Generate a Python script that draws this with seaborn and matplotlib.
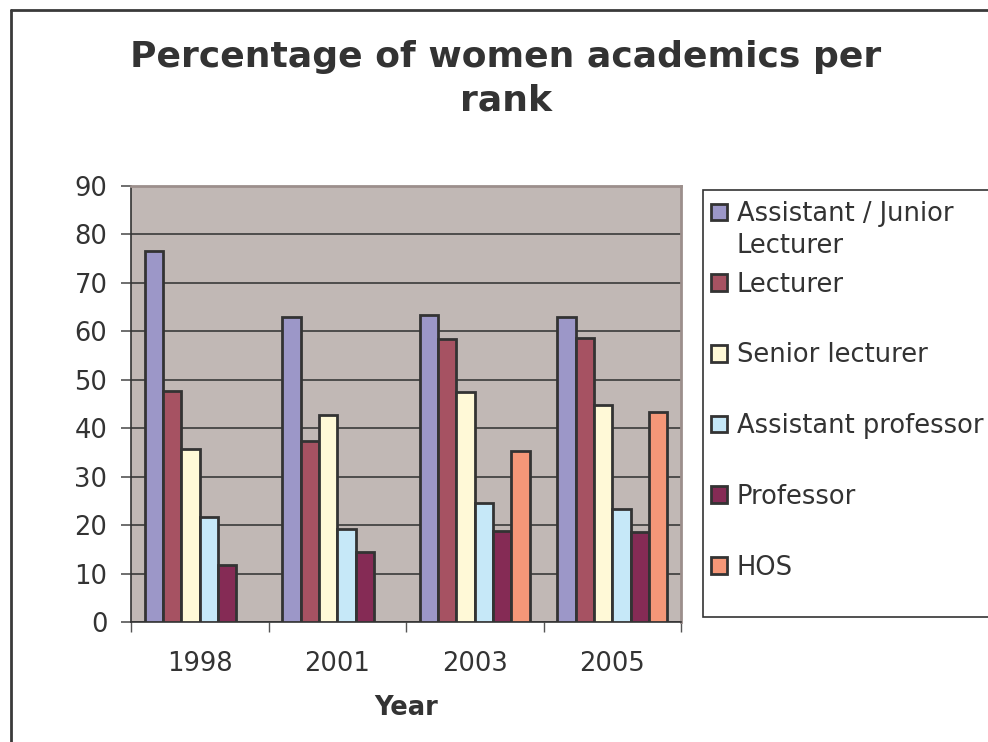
import matplotlib
matplotlib.use('Agg')
import matplotlib.pyplot as plt
from matplotlib.lines import Line2D
from matplotlib.patches import Rectangle
import pandas as pd
import seaborn as sns

# Data
years = ['1998', '2001', '2003', '2005']
ranks = ['Assistant / Junior\nLecturer', 'Lecturer', 'Senior lecturer',
         'Assistant professor', 'Professor', 'HOS']
assistant_junior = [76.6, 63.0, 63.4, 63.0]
lecturer = [47.7, 37.4, 58.5, 58.6]
senior_lecturer = [35.8, 42.7, 47.5, 44.7]
assistant_prof = [21.7, 19.3, 24.5, 23.3]
professor = [11.7, 14.5, 18.7, 18.6]
hos = [None, None, 35.2, 43.3]

colors = ['#9C97C8', '#A65262', '#FFF9D7', '#C6E8F8', '#852B55', '#F59778']

series = [assistant_junior, lecturer, senior_lecturer, assistant_prof, professor, hos]
rows = []
for rank, vals in zip(ranks, series):
    for year, v in zip(years, vals):
        if v is not None:
            rows.append({'Year': year, 'Rank': rank, 'Percentage': v})
df = pd.DataFrame(rows)

sns.set_style('white')
plt.rcParams['font.family'] = ['DejaVu Sans']
text_color = '#333333'
fs = 18.5

W, H = 988, 742
fig = plt.figure(figsize=(W / 100, H / 100), dpi=100)
ax = fig.add_axes([131 / W, 1 - 622 / H, 550 / W, 436 / H])
ax.set_facecolor('#C1B8B5')

sns.barplot(data=df, x='Year', y='Percentage', hue='Rank', order=years,
            hue_order=ranks, palette=dict(zip(ranks, colors)), saturation=1,
            edgecolor='#333333', linewidth=2, width=0.8, ax=ax, zorder=3)

ax.set_ylim(0, 90)
ax.set_xlim(-0.5, 3.5)
ax.set_yticks(range(0, 91, 10))
ax.yaxis.grid(True, color='#3a3a3a', linewidth=1.2)
ax.set_axisbelow(True)

# category boundaries as major ticks, labels on minor ticks
ax.set_xticks([-0.5, 0.5, 1.5, 2.5, 3.5])
ax.set_xticklabels([])
ax.set_xticks(range(len(years)), minor=True)
ax.set_xticklabels(years, minor=True)
ax.tick_params(axis='x', which='major', direction='out', length=7, width=1, color='#555555', bottom=True)
ax.tick_params(axis='x', which='minor', length=0, pad=21, labelsize=fs, labelcolor=text_color)
ax.tick_params(axis='y', direction='out', length=7, width=1.2, color='#555555', left=True,
               pad=10, labelsize=fs, labelcolor=text_color)

for side in ['left', 'bottom']:
    ax.spines[side].set_color('#333333')
    ax.spines[side].set_linewidth(1.2)
for side in ['top', 'right']:
    ax.spines[side].set_color('#9C8F8C')
    ax.spines[side].set_linewidth(2)

ax.set_ylabel('')
ax.set_xlabel('Year', fontsize=fs, fontweight='bold', color=text_color, labelpad=13)

fig.text(0.512, 1 - 40 / H, 'Percentage of women academics per\nrank', ha='center', va='top',
         fontsize=26, fontweight='bold', color=text_color, linespacing=1.35)

# Legend: frame drawn separately so the rows sit like the original
handles, labels = ax.get_legend_handles_labels()
ax.legend_.remove()
labels = [lab.split('\n')[0] for lab in labels]
fig.add_artist(Rectangle((703 / W, 1 - 617 / H), 300 / W, 427 / H, transform=fig.transFigure,
                         facecolor='white', edgecolor='#333333', linewidth=1.2, zorder=1))
leg = fig.legend(handles, labels, loc='upper left', bbox_to_anchor=(711 / W, 1 - 201 / H),
                 fontsize=fs, frameon=False,
                 handlelength=0.62, handleheight=0.62, handletextpad=0.38,
                 labelspacing=1.74, borderpad=0, borderaxespad=0)
leg.set_zorder(2)
for t in leg.get_texts():
    t.set_color(text_color)

fig.canvas.draw()
bb = leg.get_texts()[0].get_window_extent()
fig.text(bb.x0 / W, (bb.y0 - 32) / H, 'Lecturer', ha='left', va='bottom',
         fontsize=fs, color=text_color, zorder=3)

# outer chart border
fig.add_artist(Line2D([10.5 / W, 10.5 / W], [0, 1 - 9.5 / H], transform=fig.transFigure,
                      color='#3a3a3a', linewidth=2))
fig.add_artist(Line2D([10.5 / W, 1], [1 - 9.5 / H, 1 - 9.5 / H], transform=fig.transFigure,
                      color='#3a3a3a', linewidth=2))

fig.savefig('out.png', dpi=100)
